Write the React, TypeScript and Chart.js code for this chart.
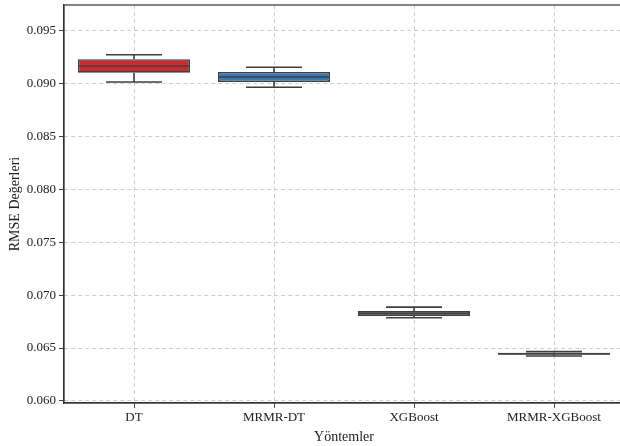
import React, { useEffect, useRef } from "react";
import { Chart, registerables } from "chart.js";

Chart.register(...registerables);

const categories = ["DT", "MRMR-DT", "XGBoost", "MRMR-XGBoost"];
const whiskerLow = [0.09016, 0.08966, 0.06786, 0.06425];
const q1 = [0.09104, 0.09016, 0.06802, 0.06437];
const median = [0.09167, 0.09063, 0.06826, 0.06446];
const q3 = [0.09231, 0.09111, 0.06849, 0.06455];
const whiskerHigh = [0.09274, 0.09155, 0.06887, 0.06466];
const boxColors = ["#cc2a2d", "#3a78b0", "#4a4a4a", "#4a4a4a"];
const yTicks = [0.06, 0.065, 0.07, 0.075, 0.08, 0.085, 0.09, 0.095];
const yMin = 0.0598;
const yMax = 0.09744;

const EDGE = "#3f3f3f";
const FONT = "'Liberation Serif', 'DejaVu Serif', serif";

const boxPlugin = {
  id: "boxWhiskers",
  afterDatasetsDraw(chart: any) {
    const ctx = chart.ctx;
    const y = chart.scales.y;
    const meta = chart.getDatasetMeta(0);
    ctx.save();
    ctx.strokeStyle = EDGE;
    ctx.lineWidth = 1.6;
    meta.data.forEach((el: any, i: number) => {
      const cx = el.x;
      const w = el.width;
      const yq1 = y.getPixelForValue(q1[i]);
      const yq3 = y.getPixelForValue(q3[i]);
      const ylo = y.getPixelForValue(whiskerLow[i]);
      const yhi = y.getPixelForValue(whiskerHigh[i]);
      const ymed = y.getPixelForValue(median[i]);
      ctx.beginPath();
      ctx.moveTo(cx, yq3);
      ctx.lineTo(cx, yhi);
      ctx.moveTo(cx, yq1);
      ctx.lineTo(cx, ylo);
      ctx.moveTo(cx - w / 4, yhi);
      ctx.lineTo(cx + w / 4, yhi);
      ctx.moveTo(cx - w / 4, ylo);
      ctx.lineTo(cx + w / 4, ylo);
      ctx.moveTo(cx - w / 2, ymed);
      ctx.lineTo(cx + w / 2, ymed);
      ctx.stroke();
    });
    ctx.restore();
  },
  afterDraw(chart: any) {
    const { ctx, chartArea } = chart;
    ctx.save();
    ctx.strokeStyle = "#333333";
    ctx.lineWidth = 1.2;
    ctx.strokeRect(chartArea.left, chartArea.top, chartArea.right - chartArea.left, chartArea.bottom - chartArea.top);
    ctx.restore();
  },
};

export default function App() {
  const ref = useRef<HTMLCanvasElement | null>(null);
  useEffect(() => {
    if (!ref.current) return;
    const chart = new Chart(ref.current, {
      type: "bar",
      data: {
        labels: categories,
        datasets: [
          {
            data: categories.map((_, i) => [q1[i], q3[i]]) as any,
            backgroundColor: boxColors,
            borderColor: EDGE,
            borderWidth: 1.6,
            borderSkipped: false,
            barPercentage: 0.8,
            categoryPercentage: 1.0,
          },
        ],
      },
      options: {
        responsive: false,
        animation: false,
        events: [],
        layout: { padding: { top: 5, left: 0, right: 0, bottom: 0 } },
        plugins: { legend: { display: false }, tooltip: { enabled: false } },
        scales: {
          x: {
            offset: true,
            grid: {
              offset: false,
              color: "#c8c8c8",
              lineWidth: 0.9,
              tickColor: "#333333",
              tickLength: 5,
              tickBorderDash: [],
            } as any,
            border: { display: true, color: "#333333", width: 1.2, dash: [4, 3] },
            ticks: { color: "#222222", font: { family: FONT, size: 13 }, padding: 2, maxRotation: 0 },
            title: {
              display: true,
              text: "Yöntemler",
              color: "#222222",
              font: { family: FONT, size: 14 },
              padding: { top: 0, bottom: 0 },
            },
            afterFit: (s: any) => {
              s.height = 43;
              s.paddingLeft = 0;
              s.paddingRight = 0;
            },
          },
          y: {
            min: yMin,
            max: yMax,
            afterBuildTicks: (axis: any) => {
              axis.ticks = yTicks.map((v) => ({ value: v }));
            },
            grid: {
              color: "#c8c8c8",
              lineWidth: 0.9,
              tickColor: "#333333",
              tickLength: 5,
              tickBorderDash: [],
            } as any,
            border: { display: true, color: "#333333", width: 1.2, dash: [4, 3] },
            ticks: {
              color: "#222222",
              font: { family: FONT, size: 13 },
              padding: 3,
              callback: (v: any) => Number(v).toFixed(3),
            },
            title: {
              display: true,
              text: "RMSE Değerleri",
              color: "#222222",
              font: { family: FONT, size: 14 },
              padding: { top: 7, bottom: 4 },
            },
            afterFit: (s: any) => {
              s.width = 64;
              s.paddingTop = 0;
              s.paddingBottom = 0;
            },
          },
        },
      },
      plugins: [boxPlugin],
    });
    return () => chart.destroy();
  }, []);
  return (
    <div style={{ position: "fixed", left: 0, top: 0, width: 620, height: 446, overflow: "hidden", background: "#fff" }}>
      <canvas ref={ref} width={624} height={446} style={{ display: "block" }} />
    </div>
  );
}
